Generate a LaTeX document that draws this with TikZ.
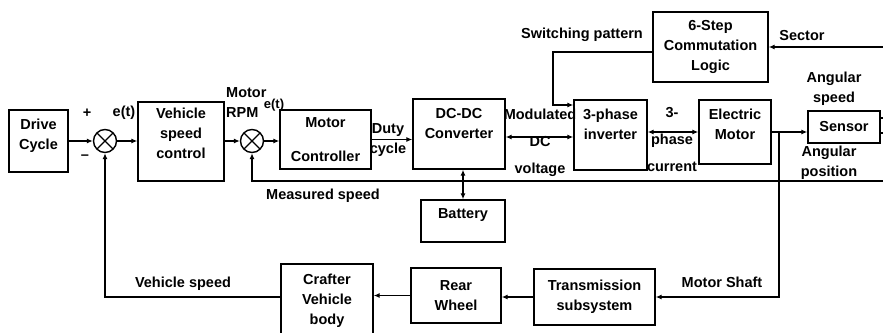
\documentclass[tikz,border=0pt]{standalone}
\usepackage{fontspec}
\setmainfont{Liberation Sans}
\usetikzlibrary{arrows.meta,positioning,calc}

\begin{document}
\begin{tikzpicture}[
  x=1pt, y=-1pt,
  font=\fontsize{14.5}{20}\selectfont\bfseries,
  box/.style={draw, line width=1.4pt, align=center, inner sep=2pt},
  sumnode/.style={circle, draw, line width=1.4pt, minimum size=23pt, inner sep=0pt,
    path picture={\draw[line width=1.4pt]
      (path picture bounding box.north west) -- (path picture bounding box.south east)
      (path picture bounding box.north east) -- (path picture bounding box.south west);}},
  txt/.style={align=center, inner sep=0pt},
  wire/.style={line width=1.4pt},
  arrow/.style={-{Latex[length=6pt,width=5pt]}, line width=1.4pt},
  darrow/.style={{Latex[length=6pt,width=5pt]}-{Latex[length=6pt,width=5pt]}, line width=1.4pt}
]
\useasboundingbox[fill=white] (0,0) rectangle (883,332);

% blocks
\node[box, minimum width=59pt, minimum height=62pt, label={[txt,yshift=5pt]center:Drive\\Cycle}] (drive) at (38.5,141) {};
\node[sumnode] (sumA) at (105,141) {};
\node[box, minimum width=86pt, minimum height=79pt, label={[txt,yshift=8pt]center:Vehicle\\speed\\control}] (vsc) at (181,141.5) {};
\node[sumnode] (sumB) at (252,141) {};
\node[box, minimum width=91pt, minimum height=59pt] (mc) at (325.5,139.5) {Motor\\[14pt]Controller};
\node[box, minimum width=92pt, minimum height=70pt, label={[txt,yshift=10pt]center:DC-DC\\Converter}] (dcdc) at (459,134) {};
\node[box, minimum width=84pt, minimum height=42pt, label={[txt,yshift=6pt]center:Battery}] (bat) at (463,221) {};
\node[box, minimum width=73pt, minimum height=70pt, label={[txt,yshift=11pt]center:3-phase\\inverter}] (inv) at (610.5,135) {};
\node[box, minimum width=72pt, minimum height=64pt, label={[txt,yshift=8pt]center:Electric\\Motor}] (em) at (735,132) {};
\node[box, minimum width=115pt, minimum height=70pt] (comm) at (710.5,47) {6-Step\\Commutation\\Logic};
\node[box, minimum width=72pt, minimum height=32pt] (sensor) at (844,127) {Sensor};
\node[box, minimum width=121pt, minimum height=56pt] (trans) at (594.5,297) {Transmission\\subsystem};
\node[box, minimum width=90pt, minimum height=55pt] (wheel) at (456,295.5) {Rear\\Wheel};
\node[box, minimum width=92pt, minimum height=74pt] (body) at (327,301) {Crafter\\Vehicle\\body};

% signal labels
\node[txt] (plus) at (87,113) {+};
\node[txt] (minus) at (85,157) {\textendash};
\node[txt] (errA) at (124,113) {e(t)};
\node[txt, align=left, anchor=west] (rpm) at (226,103) {Motor\\RPM};
\node[txt, font=\fontsize{13}{16}\selectfont\bfseries] (errB) at (274,105) {e(t)};
\node[txt] (duty) at (388,140) {Duty\\cycle};
\node[txt] (dcv) at (540,142.5) {Modulated\\[7pt]DC\\[7pt]voltage};
\node[txt] (cur) at (672,140) {3-\\[7pt]phase\\[7pt]current};
\node[txt] (angspd) at (834,88.5) {Angular\\speed};
\node[txt] (angpos) at (829,162.5) {Angular\\position};
\node[txt] (meas) at (323,196) {Measured speed};
\node[txt] (swpat) at (582,35) {Switching pattern};
\node[txt] (sect) at (802,36) {Sector};
\node[txt] (shaft) at (722,282) {Motor Shaft};
\node[txt] (vspd) at (183,284) {Vehicle speed};

% free ends and bends
\coordinate (sectin) at (883,47);
\coordinate (swbend) at (553,52);
\coordinate (jct) at (779,132);
\coordinate (measin) at (883,181);
\coordinate (stubA) at (883,118);
\coordinate (stubB) at (883,133);

% connectors
\draw[arrow] (drive.east |- sumA) -- (sumA);
\draw[arrow] (sumA.east) -- (sumA.east -| vsc.west);
\draw[arrow] (vsc.east |- sumB) -- (sumB);
\draw[arrow] (sumB.east) -- (sumB.east -| mc.west);
\draw[arrow] (mc.east) -- (mc.east -| dcdc.west);
\draw[darrow] ([yshift=-3pt]dcdc.east) -- ([yshift=-3pt]dcdc.east -| inv.west);
\draw[darrow] (bat.north |- dcdc.south) -- (bat.north);
\draw[darrow] (em.west -| inv.east) -- (em.west);
\draw[arrow] (em.east) -- (em.east -| sensor.west);
\draw[wire] ([yshift=9pt]sensor.east) -- (stubA);
\draw[wire] ([yshift=-6pt]sensor.east) -- (stubB);
\draw[arrow] (sectin) -- (comm.east);
\draw[arrow] ([yshift=-5pt]comm.west) -- (swbend) |- ([yshift=30pt]inv.west);
\draw[arrow] (measin) -| (sumB.south);
\draw[arrow] (jct) |- (trans.east);
\draw[arrow] (trans.west) -- (trans.west -| wheel.east);
\draw[arrow] (wheel.west) -- (wheel.west -| body.east);
\draw[arrow] (body.west |- trans.west) -| (sumA.south);
\end{tikzpicture}
\end{document}
